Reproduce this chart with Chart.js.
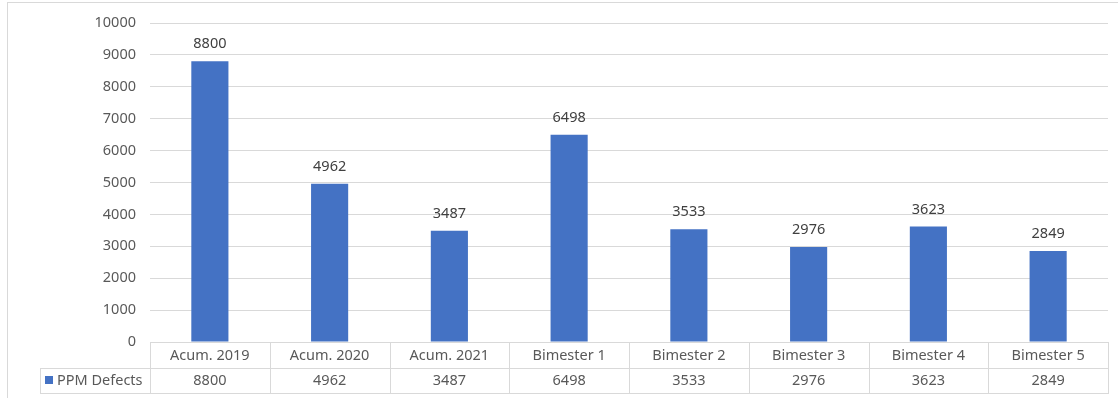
<!DOCTYPE html>
<html>
<head>
<meta charset="utf-8">
<script src="https://cdn.jsdelivr.net/npm/chart.js@4/dist/chart.umd.min.js"></script>
<style>
html,body{margin:0;padding:0;background:#fff;}
#wrap{position:relative;width:1118px;height:398px;}
#frame{position:absolute;left:7px;top:2px;width:1120px;height:410px;border:1px solid #d9d9d9;box-sizing:border-box;}
canvas{position:absolute;left:0;top:0;}
</style>
</head>
<body>
<div id="wrap">
<div id="frame"></div>
<canvas id="c" width="1118" height="398"></canvas>
</div>
<script>
const categories = ["Acum. 2019","Acum. 2020","Acum. 2021","Bimester 1","Bimester 2","Bimester 3","Bimester 4","Bimester 5"];
const seriesName = "PPM Defects";
const ppmDefects = [8800,4962,3487,6498,3533,2976,3623,2849];
const yTicks = {min:0, max:10000, step:1000};

const FONT = "'Noto Sans', 'Open Sans', sans-serif";
const FS = 14.5;
const BLUE = "#4472c4";
const GRID = "#d9d9d9";
const TXT = "#595959";

const valueLabels = {
  id:'valueLabels',
  afterDatasetsDraw(chart){
    const ctx = chart.ctx;
    const meta = chart.getDatasetMeta(0);
    ctx.save();
    ctx.font = FS + "px " + FONT;
    ctx.fillStyle = "#404040";
    ctx.textAlign = "center";
    ctx.textBaseline = "middle";
    meta.data.forEach((bar,i)=>{
      ctx.fillText(String(chart.data.datasets[0].data[i]), bar.x, bar.y - 17);
    });
    ctx.restore();
  }
};

const dataTable = {
  id:'dataTable',
  afterDraw(chart){
    const ctx = chart.ctx;
    const xs = chart.scales.x;
    const area = chart.chartArea;
    const top = area.bottom;
    const rowH = 25.5;
    const mid = top + rowH;
    const bot = top + 2*rowH;
    const left = area.left, right = area.right;
    const legLeft = 40;
    const n = categories.length;
    const cw = (right-left)/n;
    ctx.save();
    ctx.strokeStyle = GRID;
    ctx.lineWidth = 1;
    ctx.beginPath();
    const h = (y,x1,x2)=>{ctx.moveTo(x1, Math.round(y)+0.5);ctx.lineTo(x2, Math.round(y)+0.5);};
    const v = (x,y1,y2)=>{ctx.moveTo(Math.round(x)+0.5, y1);ctx.lineTo(Math.round(x)+0.5, y2);};
    h(top,left,right);
    h(mid,legLeft,right);
    h(bot,legLeft,right);
    v(legLeft,Math.round(mid),Math.round(bot)+1);
    for(let i=0;i<=n;i++){
      v(left+i*cw, Math.round(top), Math.round(bot)+1);
    }
    ctx.stroke();
    ctx.font = FS + "px " + FONT;
    ctx.fillStyle = TXT;
    ctx.textAlign = "center";
    ctx.textBaseline = "middle";
    categories.forEach((c,i)=>{
      const cx = xs.getPixelForValue(i);
      ctx.fillText(c, cx, top + rowH/2 + 1);
      ctx.fillText(String(chart.data.datasets[0].data[i]), cx, mid + rowH/2 + 1);
    });
    ctx.fillStyle = BLUE;
    ctx.fillRect(45, Math.round(mid)+8, 8, 8);
    ctx.fillStyle = TXT;
    ctx.textAlign = "left";
    ctx.fillText(seriesName, 57, mid + rowH/2 + 1);
    ctx.restore();
  }
};

new Chart(document.getElementById('c'), {
  type:'bar',
  data:{
    labels:categories,
    datasets:[{label:seriesName, data:ppmDefects, backgroundColor:BLUE, borderWidth:0, categoryPercentage:1, barPercentage:0.31}]
  },
  options:{
    responsive:false,
    animation:false,
    devicePixelRatio:1,
    layout:{padding:{top:23, right:10, bottom:56, left:0}},
    plugins:{legend:{display:false}, tooltip:{enabled:false}},
    scales:{
      x:{display:false},
      y:{
        min:yTicks.min, max:yTicks.max,
        afterFit(s){ s.width = 150; },
        ticks:{stepSize:yTicks.step, color:TXT, font:{family:FONT, size:FS}, padding:14, callback:(v)=>String(v)},
        grid:{color:GRID, drawTicks:false, lineWidth:1},
        border:{display:false}
      }
    }
  },
  plugins:[valueLabels, dataTable]
});
</script>
</body>
</html>
